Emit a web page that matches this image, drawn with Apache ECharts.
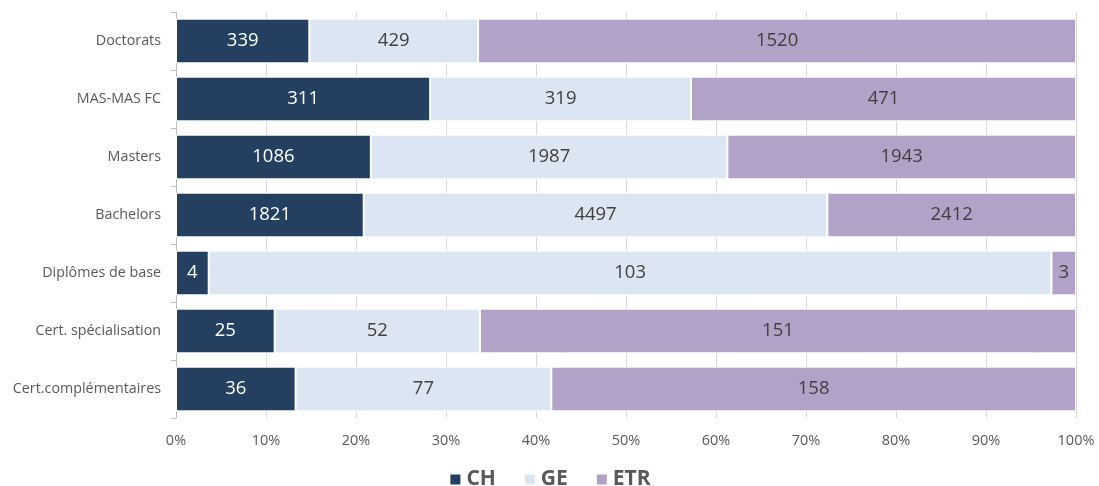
<!DOCTYPE html>
<html><head><meta charset="utf-8">
<script src="https://cdn.jsdelivr.net/npm/echarts@6/dist/echarts.min.js"></script>
<style>html,body{margin:0;padding:0;background:#fff}#c{width:1099px;height:486px}</style>
</head><body><div id="c"></div>
<script>
const categories = ["Doctorats","MAS-MAS FC","Masters","Bachelors","Diplômes de base","Cert. spécialisation","Cert.complémentaires"];
const seriesNames = ["CH","GE","ETR"];
const CH  = [339, 311, 1086, 1821, 4, 25, 36];
const GE  = [429, 319, 1987, 4497, 103, 52, 77];
const ETR = [1520, 471, 1943, 2412, 3, 151, 158];
const colors = ["#243F60", "#DCE6F2", "#B3A2C7"];
const labelColors = ["#ffffff", "#404040", "#404040"];

const raw = [CH, GE, ETR];
const totals = categories.map((_, i) => CH[i] + GE[i] + ETR[i]);
const font = "'Open Sans', 'Liberation Sans', sans-serif";

const chart = echarts.init(document.getElementById('c'));
chart.setOption({
  animation: false,
  grid: { left: 176, right: 23, top: 12, bottom: 68, containLabel: false },
  legend: {
    data: seriesNames, top: 464, left: 'center', itemWidth: 12, itemHeight: 12, itemGap: 27,
    icon: 'rect',
    textStyle: { fontFamily: font, fontSize: 21, fontWeight: 'bold', color: '#595959' }
  },
  xAxis: {
    type: 'value', min: 0, max: 100, interval: 10,
    axisLabel: { formatter: '{value}%', color: '#595959', fontFamily: font, fontSize: 14.5, margin: 15 },
    splitLine: { show: true, lineStyle: { color: '#d9d9d9' } },
    axisLine: { show: false }, axisTick: { show: false }
  },
  yAxis: {
    type: 'category', data: categories, inverse: true,
    axisLine: { show: true, lineStyle: { color: '#bfbfbf' } },
    axisTick: { show: true, length: 5, lineStyle: { color: '#bfbfbf' } },
    axisLabel: { color: '#595959', fontFamily: font, fontSize: 14.3, margin: 15 }
  },
  series: seriesNames.map((name, s) => ({
    name, type: 'bar', stack: 'total', barCategoryGap: '23%',
    itemStyle: { color: colors[s], borderColor: '#ffffff', borderWidth: 1 },
    label: {
      show: true, position: 'inside', color: labelColors[s], fontFamily: font, fontSize: 18.5,
      formatter: p => String(raw[s][p.dataIndex])
    },
    data: raw[s].map((v, i) => v / totals[i] * 100)
  }))
});
</script></body></html>
